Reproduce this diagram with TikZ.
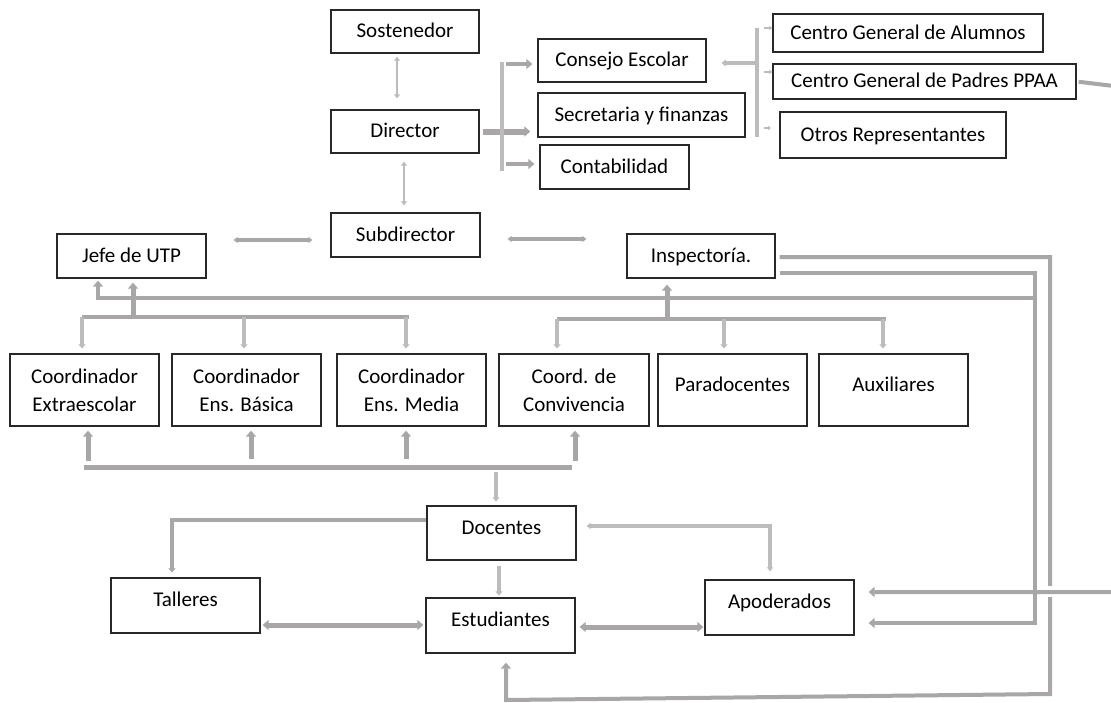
\documentclass[tikz,border=0pt]{standalone}
\usepackage{fontspec}
\setmainfont{Carlito}
\usetikzlibrary{arrows.meta}
\definecolor{cA}{RGB}{168,166,166}
\definecolor{cB}{RGB}{188,188,188}
\definecolor{bd}{RGB}{40,40,40}
\begin{document}
\begin{tikzpicture}[x=1pt,y=-1pt,
  box/.style={draw=bd, line width=1.3pt, fill=white, inner sep=0pt, font=\fontsize{21}{28}\selectfont},
  one/.style={text height=15pt, text depth=3pt},
  hi/.style={text height=14pt, text depth=12pt},
  two/.style={align=center},
  thk/.style={draw=cA, line width=5pt},
  med/.style={draw=cA, line width=4pt},
  thn/.style={draw=cB, line width=3.2pt},
  hd/.style={-{Triangle[width=10pt,length=6pt]}},
  hds/.style={{Triangle[width=10pt,length=6pt]}-{Triangle[width=10pt,length=6pt]}},
  sh/.style={-{Triangle[width=7pt,length=4pt]}},
  shs/.style={{Triangle[width=6pt,length=4pt]}-{Triangle[width=6pt,length=4pt]}},
  tk/.style={draw=cB, line width=1.2pt, -{Triangle[width=4pt,length=3pt]}}
]
\fill[white] (0,0) rectangle (1111,702);
\useasboundingbox (0,0) rectangle (1111,702);

% nodes
\node[box,one,minimum width=148pt,minimum height=43pt] (sost) at (405,31.5) {Sostenedor};
\node[box,one,minimum width=148pt,minimum height=43pt] (dir) at (405,131.5) {Director};
\node[box,one,minimum width=149pt,minimum height=44pt] (sub) at (405.5,235) {Subdirector};
\node[box,one,minimum width=168pt,minimum height=43pt] (cons) at (622,60.5) {Consejo Escolar};
\node[box,one,minimum width=207pt,minimum height=44pt] (secr) at (641.5,115) {Secretaria y finanzas};
\node[box,one,minimum width=149pt,minimum height=44pt] (cont) at (614.5,167) {Contabilidad};
\node[box,one,minimum width=270pt,minimum height=38pt] (cga) at (908,33) {Centro General de Alumnos};
\node[box,one,minimum width=303pt,minimum height=35pt] (cgp) at (924.5,81.5) {Centro General de Padres PPAA};
\node[box,one,minimum width=226pt,minimum height=46pt] (otr) at (893,135) {Otros Representantes};
\node[box,one,minimum width=149pt,minimum height=44pt] (jefe) at (131.5,256) {Jefe de UTP};
\node[box,one,minimum width=148pt,minimum height=44pt] (insp) at (701,256) {Inspectoría.};
\node[box,two,minimum width=149pt,minimum height=72pt] (c1) at (84.5,390) {Coordinador\\Extraescolar};
\node[box,two,minimum width=149pt,minimum height=72pt] (c2) at (246.5,390) {Coordinador\\Ens. Básica};
\node[box,two,minimum width=149pt,minimum height=72pt] (c3) at (411.5,390) {Coordinador\\Ens. Media};
\node[box,two,minimum width=150pt,minimum height=72pt] (c4) at (574,390) {Coord. de\\Convivencia};
\node[box,hi,minimum width=149pt,minimum height=72pt] (c5) at (732.5,390) {Paradocentes};
\node[box,hi,minimum width=149pt,minimum height=72pt] (c6) at (893.5,390) {Auxiliares};
\node[box,hi,minimum width=149pt,minimum height=54pt] (doc) at (501.5,533) {Docentes};
\node[box,hi,minimum width=149pt,minimum height=55pt] (est) at (500.5,625.5) {Estudiantes};
\node[box,hi,minimum width=149pt,minimum height=55pt] (tall) at (185.5,605.5) {Talleres};
\node[box,hi,minimum width=149pt,minimum height=55pt] (apod) at (779.5,607.5) {Apoderados};

% helper coordinates
\coordinate (b1t) at (502,62);
\coordinate (b1b) at (502,171);
\coordinate (b2t) at (757,28);
\coordinate (b2b) at (757,137);
\coordinate (hl) at (1035,298);

% top
\draw[thn, line width=2.8pt, shs, shorten <=3pt, shorten >=11pt] ([xshift=-8pt]sost.south) -- ([xshift=-8pt]dir.north);
\draw[thn, line width=2.8pt, shs, shorten <=8pt, shorten >=7pt] ([xshift=-1pt]dir.south) -- ([xshift=-1.5pt]sub.north);
\draw[thk, line width=6pt, hd, shorten <=3pt, shorten >=7pt] (dir.east) -- (secr.west |- dir.east);
\draw[thn] (b1t) -- (b1b);
\draw[med, hd, shorten <=4pt, shorten >=5pt] (502,64) -- (cons.west |- 0,64);
\draw[med, hd, shorten <=4pt, shorten >=5pt] (502,164) -- (cont.west |- 0,164);
\draw[thn] (b2t) -- (b2b);
\draw[thn, sh, shorten >=15pt] (757,63) -- (cons.east |- 0,63);
\draw[tk] (764,28) -- (cga.west |- 0,28);
\draw[tk] (764,72) -- (cgp.west |- 0,72);
\draw[tk] (764,128) -- (771,128);

% subdirector
\draw[med, line width=3.6pt, shs, shorten <=18pt, shorten >=27pt] (sub.west |- 0,240) -- (jefe.east |- 0,240);
\draw[med, line width=3.6pt, shs, shorten <=27pt, shorten >=40pt] (sub.east |- 0,239) -- (insp.west |- 0,239);

% inspectoria long lines
\draw[med, hd, shorten <=4pt, shorten >=9pt] (insp.east |- 0,257) -- (1050,257) -- (1050,694) -- (506,700) -- (est.south -| 506,0);
\draw[white, line width=8pt] (1050,586) -- (1050,597);
\draw[med, hd, shorten <=4pt, shorten >=14pt] (insp.east |- 0,273) -- (1035,273) -- (1035,623) -- (apod.east |- 0,623);
\begin{scope}
\clip (0,0) rectangle (1111,702);
\draw[med, hd, shorten <=2pt, shorten >=14pt] (cgp.east) -- (1130,88) -- (1130,592) -- (apod.east |- 0,592);
\end{scope}

% upper horizontal to Jefe
\draw[med, line width=3.8pt, hd, shorten >=2pt] (hl) -- (98,298) -- (jefe.south -| 98,0);

% left bracket
\draw[med] (82,317) -- (409,317);
\draw[thn, sh, shorten >=5pt] (82,317) -- (c1.north -| 82,0);
\draw[thn, sh, shorten >=5pt] (244,317) -- (c2.north -| 244,0);
\draw[thn, sh, shorten >=5pt] (406,317) -- (c3.north -| 406,0);
\draw[thk, hd, shorten >=4pt] (133,317) -- (jefe.south -| 133,0);

% right bracket
\draw[med] (557,319) -- (886,319);
\draw[thn, sh, shorten >=5pt] (557,319) -- (c4.north -| 557,0);
\draw[thn, sh, shorten >=5pt] (724,319) -- (c5.north -| 724,0);
\draw[thn, sh, shorten >=5pt] (883,319) -- (c6.north -| 883,0);
\draw[thk, hd, shorten >=6pt] (667,319) -- (insp.south -| 667,0);

% lower coordinator line
\draw[thk] (84,467) -- (572,467);
\draw[thk, hd, shorten <=6pt, shorten >=4pt] (88,467) -- (c1.south -| 88,0);
\draw[thk, hd, shorten <=8pt, shorten >=4pt] (251,467) -- (c2.south -| 251,0);
\draw[thk, hd, shorten <=8pt, shorten >=4pt] (406,467) -- (c3.south -| 406,0);
\draw[thk, hd, shorten <=6pt, shorten >=4pt] (575,467) -- (c4.south -| 575,0);
\draw[thn, sh, shorten <=5pt, shorten >=4pt] (496,467) -- (doc.north -| 496,0);

% bottom
\draw[med, line width=3.8pt, sh, shorten >=5pt] (doc.west |- 0,520) -- (172,520) -- (tall.north -| 172,0);
\draw[thn, sh, shorten <=5pt, shorten >=2pt] (doc.south -| 499,0) -- (est.north -| 499,0);
\draw[thn, shs, shorten <=10pt, shorten >=8pt] (doc.east |- 0,526) -- (770,526) -- (apod.north -| 770,0);
\draw[thk, hds, shorten <=2pt, shorten >=2pt] (tall.east |- 0,625) -- (est.west |- 0,625);
\draw[thk, hds, shorten <=4pt, shorten >=1pt] (est.east |- 0,627) -- (apod.west |- 0,627);
\end{tikzpicture}
\end{document}
